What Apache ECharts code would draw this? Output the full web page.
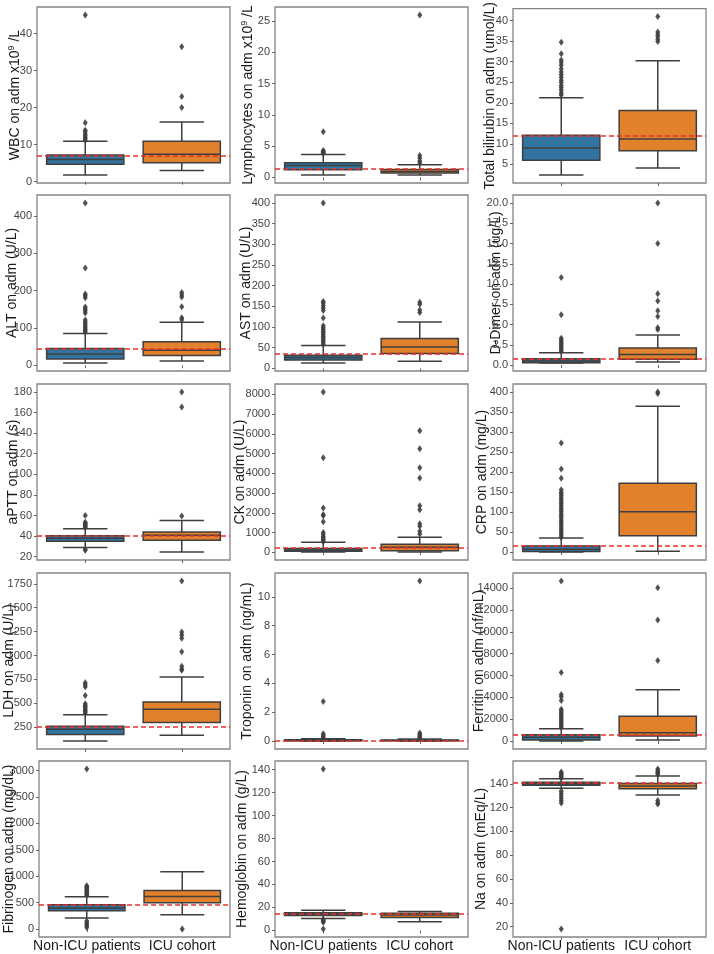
<!DOCTYPE html>
<html><head><meta charset="utf-8">
<script src="https://cdn.jsdelivr.net/npm/echarts@6/dist/echarts.min.js"></script>
<style>html,body{margin:0;padding:0;background:#fff}#c{width:714px;height:954px}</style>
</head><body><div id="c"></div>
<script>
const categories = ['Non-ICU patients', 'ICU cohort'];

// Each box: [whiskerLow, Q1, median, Q3, whiskerHigh]  (Non-ICU, ICU)
const wbcBoxes = [[1.8, 4.7, 6.0, 7.2, 10.9], [3.0, 5.1, 7.4, 10.9, 16.1]];
const wbcOutliers = [[11.2, 11.6, 12.0, 12.4, 12.9, 13.5, 13.9, 15.9, 45.0], [20.0, 23.0, 36.4]];
const wbcRef = 7.1;
const wbcTicks = [0, 10, 20, 30, 40];

const lymBoxes = [[0.37, 1.2, 1.9, 2.35, 3.67], [0.37, 0.69, 0.95, 1.25, 2.0]];
const lymOutliers = [[3.85, 3.95, 4.05, 4.15, 4.3, 7.3], [2.3, 2.6, 3.1, 3.5, 26.0]];
const lymRef = 1.3;
const lymTicks = [0, 5, 10, 15, 20, 25];

const bilBoxes = [[2.4, 6.0, 9.0, 12.1, 21.2], [4.1, 8.3, 11.2, 18.1, 30.2]];
const bilOutliers = [[21.9, 22.4, 23.1, 23.7, 24.2, 24.9, 25.5, 26.2, 26.8, 27.5, 28.3, 29.1, 29.8, 30.4, 31.9, 34.7], [34.9, 35.4, 36.1, 36.6, 37.2, 41.0]];
const bilRef = 12.0;
const bilTicks = [5, 10, 15, 20, 25, 30, 35, 40];

const altBoxes = [[6, 17, 30, 45, 85], [11.6, 26, 40, 63, 115]];
const altOutliers = [[89, 93, 97, 101, 106, 111, 116, 121, 140, 146, 151, 156, 181, 186, 191, 261, 435], [122, 127, 157, 183, 189, 195]];
const altRef = 45;
const altTicks = [0, 100, 200, 300, 400];

const astBoxes = [[13, 20, 26.5, 32, 55.5], [17, 36, 51.5, 72.5, 112]];
const astOutliers = [[58, 62, 66, 70, 74, 78, 82, 86, 90, 94, 98, 103, 122, 140, 146, 152, 158, 162, 400], [135, 141, 155, 160]];
const astRef = 35;
const astTicks = [0, 50, 100, 150, 200, 250, 300, 350, 400];

const ddBoxes = [[0.25, 0.29, 0.49, 0.78, 1.52], [0.37, 0.7, 1.31, 2.1, 3.7]];
const ddOutliers = [[1.7, 1.9, 2.1, 2.3, 2.5, 2.7, 2.9, 3.1, 3.3, 6.2, 10.8], [4.4, 4.6, 6.0, 6.7, 7.9, 8.8, 15.0, 20.0]];
const ddRef = 0.8;
const ddTicks = [0, 2.5, 5, 7.5, 10, 12.5, 15, 17.5, 20];

const apttBoxes = [[28.8, 34.9, 37.8, 40.3, 47.1], [24.5, 35.9, 40.8, 44.0, 55.0]];
const apttOutliers = [[26.2, 27.1, 48.4, 49.3, 50.1, 51.0, 51.8, 52.7, 53.5, 60.0], [59.5, 165.5, 180.0]];
const apttRef = 40;
const apttTicks = [20, 40, 60, 80, 100, 120, 140, 160, 180];

const ckBoxes = [[20, 50, 100, 200, 506], [17, 84, 253, 405, 760]];
const ckOutliers = [[540, 600, 660, 720, 800, 900, 1000, 1550, 1850, 1920, 2245, 4790, 8120], [928, 1063, 1316, 1451, 2160, 2363, 3764, 4287, 5249, 6160]];
const ckRef = 220;
const ckTicks = [0, 1000, 2000, 3000, 4000, 5000, 6000, 7000, 8000];

const crpBoxes = [[0, 1, 6.7, 15, 35], [1.7, 41, 101, 172, 365]];
const crpOutliers = [[37, 41, 46, 51, 55, 60, 66, 71, 75, 80, 86, 91, 95, 101, 106, 110, 116, 121, 125, 131, 136, 141, 146, 150, 156, 185, 208, 273], [397, 401]];
const crpRef = 15;
const crpTicks = [0, 50, 100, 150, 200, 250, 300, 350, 400];

const ldhBoxes = [[105, 174, 229, 260, 381], [164, 298, 437, 513, 776]];
const ldhOutliers = [[398, 412, 425, 438, 452, 466, 480, 495, 582, 672, 695, 714], [845, 859, 887, 1039, 1181, 1215, 1247, 1780]];
const ldhRef = 255;
const ldhTicks = [250, 500, 750, 1000, 1250, 1500, 1750];

const tropBoxes = [[0, 0.01, 0.03, 0.08, 0.15], [0, 0.01, 0.03, 0.07, 0.14]];
const tropOutliers = [[0.2, 0.3, 0.4, 0.5, 2.74], [0.2, 0.25, 0.35, 0.45, 0.55, 11.1]];
const tropRef = 0.04;
const tropTicks = [0, 2, 4, 6, 8, 10];

const ferBoxes = [[0, 91, 333, 575, 1120], [91, 454, 756, 2269, 4690]];
const ferOutliers = [[1250, 1400, 1550, 1700, 1850, 2000, 2150, 2300, 2450, 2600, 2750, 2900, 3720, 4050, 4270, 6290, 14670], [7380, 11100, 14040]];
const ferRef = 600;
const ferTicks = [0, 2000, 4000, 6000, 8000, 10000, 12000, 14000];

const fibBoxes = [[207, 346, 396, 459, 610], [270, 497, 616, 730, 1082]];
const fibOutliers = [[30, 60, 90, 120, 151, 640, 660, 680, 700, 720, 740, 760, 780, 800, 820, 3030], [0]];
const fibRef = 455;
const fibTicks = [0, 500, 1000, 1500, 2000, 2500, 3000];

const hbBoxes = [[10.4, 13.0, 14.2, 15.3, 17.6], [7.5, 11.3, 13.3, 15.0, 16.5]];
const hbOutliers = [[1.2, 7.0, 8.0, 8.5, 9.5, 140.6], []];
const hbRef = 14.7;
const hbTicks = [0, 20, 40, 60, 80, 100, 120, 140];

const naBoxes = [[136.4, 138.9, 140, 141.4, 144.2], [130.6, 135.8, 138.3, 140.3, 146.7]];
const naOutliers = [[18, 124, 126, 128, 130, 132, 134, 145, 146, 147, 148, 149, 150], [123, 124, 126, 148, 149, 150, 151, 152.5]];
const naRef = 141;
const naTicks = [20, 40, 60, 80, 100, 120, 140];

const panels = [
  {title: 'WBC on adm x10{sup|9} /L', boxes: wbcBoxes, outliers: wbcOutliers, ref: wbcRef, ticks: wbcTicks, gap: 14},
  {title: 'Lymphocytes on adm x10{sup|9} /L', boxes: lymBoxes, outliers: lymOutliers, ref: lymRef, ticks: lymTicks, gap: 19},
  {title: 'Total bilirubin on adm (umol/L)', boxes: bilBoxes, outliers: bilOutliers, ref: bilRef, ticks: bilTicks, gap: 15},
  {title: 'ALT on adm (U/L)', boxes: altBoxes, outliers: altOutliers, ref: altRef, ticks: altTicks, gap: 17},
  {title: 'AST on adm (U/L)', boxes: astBoxes, outliers: astOutliers, ref: astRef, ticks: astTicks, gap: 21},
  {title: 'D-Dimer on adm (ug/L)', boxes: ddBoxes, outliers: ddOutliers, ref: ddRef, ticks: ddTicks, gap: 9, dec: 1},
  {title: 'aPTT on adm (s)', boxes: apttBoxes, outliers: apttOutliers, ref: apttRef, ticks: apttTicks, gap: 16},
  {title: 'CK on adm (U/L)', boxes: ckBoxes, outliers: ckOutliers, ref: ckRef, ticks: ckTicks, gap: 27},
  {title: 'CRP on adm (mg/L)', boxes: crpBoxes, outliers: crpOutliers, ref: crpRef, ticks: crpTicks, gap: 23},
  {title: 'LDH on adm (U/L)', boxes: ldhBoxes, outliers: ldhOutliers, ref: ldhRef, ticks: ldhTicks, gap: 20},
  {title: 'Troponin on adm (ng/mL)', boxes: tropBoxes, outliers: tropOutliers, ref: tropRef, ticks: tropTicks, gap: 20},
  {title: 'Ferritin on adm (nf/mL)', boxes: ferBoxes, outliers: ferOutliers, ref: ferRef, ticks: ferTicks, gap: 26},
  {title: 'Fibrinogen on adm (mg/dL)', boxes: fibBoxes, outliers: fibOutliers, ref: fibRef, ticks: fibTicks, gap: 22},
  {title: 'Hemoglobin on adm (g/L)', boxes: hbBoxes, outliers: hbOutliers, ref: hbRef, ticks: hbTicks, gap: 25},
  {title: 'Na on adm (mEq/L)', boxes: naBoxes, outliers: naOutliers, ref: naRef, ticks: naTicks, gap: 24}
];

const FONT = '"Liberation Sans", Arial, Helvetica, sans-serif';
const boxColors = ['#3274a1', '#e1812c'];
const lineCol = '#3f3f3f';
const colLeft = [37, 275, 513];
const rowTop = [7, 195, 384, 573, 761];
const GW = 193, GH = 176;

const grids = [], xAxes = [], yAxes = [], series = [];

panels.forEach((p, i) => {
  const r = Math.floor(i / 3), c = i % 3;
  grids.push({left: colLeft[c], top: rowTop[r], width: GW, height: GH, show: true,
    borderColor: '#858585', borderWidth: 1.3, backgroundColor: 'transparent', containLabel: false});
  const all = p.boxes.flatMap(b => [b[0], b[4]]).concat(p.outliers.flat());
  const lo = Math.min(...all), hi = Math.max(...all), pad = (hi - lo) * 0.05;
  xAxes.push({
    gridIndex: i, type: 'category', data: categories, boundaryGap: true,
    axisLine: {show: false},
    axisTick: {show: true, alignWithLabel: true, length: 3, lineStyle: {color: '#666', width: 1}},
    axisLabel: {show: r === 4, interval: 0, hideOverlap: false, fontSize: 14, color: '#1a1a1a', margin: 2, fontFamily: FONT}
  });
  yAxes.push({
    gridIndex: i, type: 'value', min: lo - pad, max: hi + pad,
    name: p.title, nameLocation: 'middle', nameGap: p.gap, nameMoveOverlap: false,
    nameTextStyle: {fontSize: 14, color: '#1a1a1a', fontFamily: FONT, lineHeight: 16,
      rich: {sup: {fontSize: 9, lineHeight: 9, verticalAlign: 'top', fontFamily: FONT, color: '#1a1a1a'}}},
    axisLine: {show: false}, splitLine: {show: false},
    axisTick: {show: true, length: 3, customValues: p.ticks, lineStyle: {color: '#666', width: 1}},
    axisLabel: {customValues: p.ticks, fontSize: 11, color: '#444', margin: 5, fontFamily: FONT,
      formatter: v => p.dec ? Number(v).toFixed(p.dec) : String(v)}
  });
  series.push({
    type: 'custom', xAxisIndex: i, yAxisIndex: i, z: 2,
    data: p.boxes.map((b, k) => [k, b[0], b[1], b[2], b[3], b[4]]),
    encode: {x: 0, y: [1, 2, 3, 4, 5]},
    renderItem: (params, api) => {
      const k = api.value(0);
      const band = api.size([1, 0])[0];
      const x = api.coord([k, api.value(3)])[0];
      const y = d => api.coord([k, api.value(d)])[1];
      const yLo = y(1), yQ1 = y(2), yMed = y(3), yQ3 = y(4), yHi = y(5);
      const bw = band * 0.4, cw = band * 0.23;
      const ls = {stroke: lineCol, lineWidth: 1.5};
      return {type: 'group', children: [
        {type: 'line', shape: {x1: x, y1: yQ3, x2: x, y2: yHi}, style: ls},
        {type: 'line', shape: {x1: x, y1: yQ1, x2: x, y2: yLo}, style: ls},
        {type: 'line', shape: {x1: x - cw, y1: yHi, x2: x + cw, y2: yHi}, style: ls},
        {type: 'line', shape: {x1: x - cw, y1: yLo, x2: x + cw, y2: yLo}, style: ls},
        {type: 'rect', shape: {x: x - bw, y: yQ3, width: 2 * bw, height: yQ1 - yQ3},
          style: {fill: boxColors[k], stroke: lineCol, lineWidth: 1.5}},
        {type: 'line', shape: {x1: x - bw, y1: yMed, x2: x + bw, y2: yMed}, style: ls}
      ]};
    }
  });
  const pts = [];
  p.outliers.forEach((arr, k) => arr.forEach(v => pts.push([k, v])));
  series.push({
    type: 'scatter', xAxisIndex: i, yAxisIndex: i, z: 3,
    data: pts, symbol: 'diamond', symbolSize: [5, 7],
    itemStyle: {color: lineCol, opacity: 0.9},
    markLine: {silent: true, symbol: 'none', label: {show: false}, z: 4,
      lineStyle: {color: '#e8302a', type: [5, 3], width: 1.5, opacity: 1},
      emphasis: {disabled: true},
      data: [{yAxis: p.ref}]}
  });
});

const chart = echarts.init(document.getElementById('c'), null, {renderer: 'canvas'});
chart.setOption({
  animation: false, backgroundColor: '#ffffff',
  grid: grids, xAxis: xAxes, yAxis: yAxes, series: series
});
</script></body></html>
